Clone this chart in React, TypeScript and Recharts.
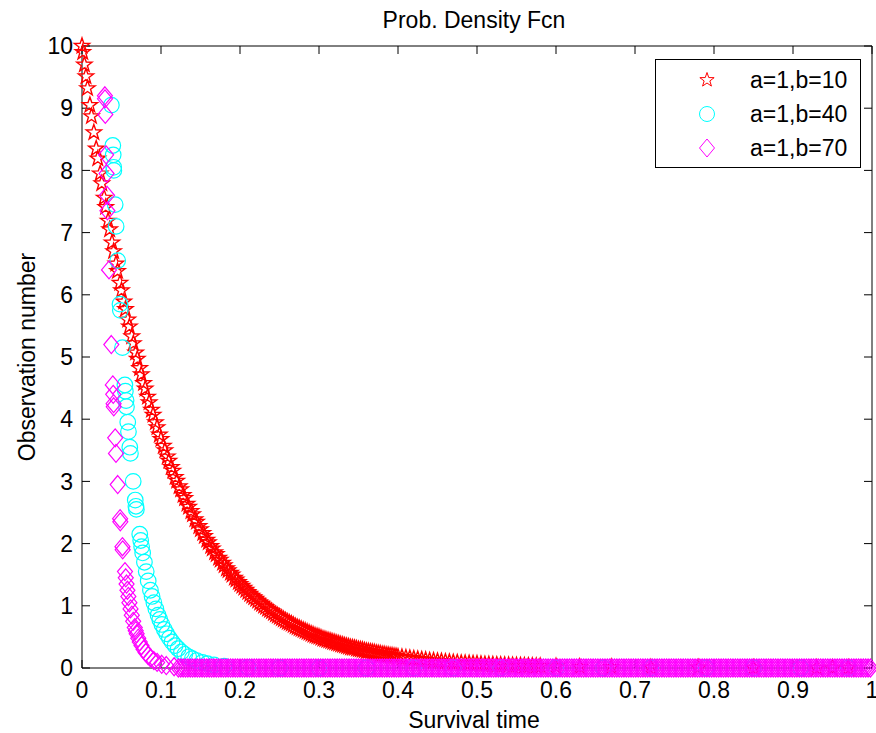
import React from 'react';
import { ScatterChart, Scatter, XAxis, YAxis, Label } from 'recharts';

const FONT = '"Liberation Sans", Arial, Helvetica, sans-serif';
const FS = 23;

const xTicks = [0, 0.1, 0.2, 0.3, 0.4, 0.5, 0.6, 0.7, 0.8, 0.9, 1];
const yTicks = [0, 1, 2, 3, 4, 5, 6, 7, 8, 9, 10];
const xTickLabels = ['0', '0.1', '0.2', '0.3', '0.4', '0.5', '0.6', '0.7', '0.8', '0.9', '1'];

const seriesNames = ['a=1,b=10', 'a=1,b=40', 'a=1,b=70'];
const seriesColors = ['#ff0000', '#00ffff', '#ff00ff'];

// a=1,b=10 (red stars)
const redX = [0, 0.001, 0.003, 0.005, 0.007, 0.01, 0.012, 0.015, 0.018, 0.02, 0.023, 0.025, 0.028, 0.03, 0.033, 0.035, 0.038, 0.04, 0.043, 0.045, 0.048, 0.05, 0.053, 0.055, 0.058, 0.06, 0.063, 0.065, 0.068, 0.07, 0.073, 0.075, 0.078, 0.08, 0.083, 0.085, 0.088, 0.09, 0.093, 0.095, 0.098, 0.1, 0.103, 0.105, 0.108, 0.11, 0.113, 0.115, 0.118, 0.12, 0.123, 0.125, 0.128, 0.13, 0.133, 0.135, 0.138, 0.14, 0.143, 0.145, 0.148, 0.15, 0.153, 0.155, 0.158, 0.16, 0.163, 0.165, 0.168, 0.17, 0.173, 0.175, 0.178, 0.18, 0.183, 0.185, 0.188, 0.19, 0.193, 0.195, 0.198, 0.2, 0.205, 0.21, 0.215, 0.22, 0.225, 0.23, 0.235, 0.24, 0.245, 0.25, 0.255, 0.26, 0.265, 0.27, 0.275, 0.28, 0.285, 0.29, 0.295, 0.3, 0.305, 0.31, 0.315, 0.32, 0.325, 0.33, 0.335, 0.34, 0.345, 0.35, 0.355, 0.36, 0.365, 0.37, 0.375, 0.38, 0.385, 0.39, 0.395, 0.4, 0.41, 0.42, 0.43, 0.44, 0.45, 0.46, 0.47, 0.48, 0.49, 0.5, 0.51, 0.52, 0.53, 0.54, 0.55, 0.56, 0.57, 0.58, 0.6, 0.63, 0.67, 0.72, 0.78, 0.85, 0.93, 0.95, 0.97];
const redY = [10, 9.9, 9.7, 9.51, 9.32, 9.05, 8.87, 8.61, 8.35, 8.19, 7.95, 7.79, 7.56, 7.41, 7.19, 7.05, 6.84, 6.7, 6.5, 6.38, 6.19, 6.07, 5.89, 5.77, 5.6, 5.49, 5.33, 5.22, 5.07, 4.97, 4.82, 4.72, 4.58, 4.49, 4.36, 4.27, 4.15, 4.07, 3.95, 3.87, 3.75, 3.68, 3.57, 3.5, 3.4, 3.33, 3.23, 3.17, 3.07, 3.01, 2.92, 2.87, 2.78, 2.73, 2.64, 2.59, 2.52, 2.47, 2.39, 2.35, 2.28, 2.23, 2.17, 2.12, 2.06, 2.02, 1.96, 1.92, 1.86, 1.83, 1.77, 1.74, 1.69, 1.65, 1.6, 1.57, 1.53, 1.5, 1.45, 1.42, 1.38, 1.35, 1.29, 1.22, 1.16, 1.11, 1.05, 1.0, 0.95, 0.91, 0.86, 0.82, 0.78, 0.74, 0.71, 0.67, 0.64, 0.61, 0.58, 0.55, 0.52, 0.5, 0.47, 0.45, 0.43, 0.41, 0.39, 0.37, 0.35, 0.33, 0.32, 0.3, 0.29, 0.27, 0.26, 0.25, 0.235, 0.22, 0.21, 0.2, 0.19, 0.18, 0.165, 0.15, 0.135, 0.12, 0.11, 0.1, 0.09, 0.08, 0.075, 0.07, 0.06, 0.055, 0.05, 0.045, 0.041, 0.037, 0.033, 0.03, 0.025, 0.018, 0.012, 0.007, 0.004, 0.002, 0.001, 0.001, 0.0];
const redX2 = [0.2025, 0.2075, 0.2125, 0.2175, 0.2225, 0.2275, 0.2325, 0.2375, 0.2425, 0.2475, 0.2525, 0.2575, 0.2625, 0.2675, 0.2725, 0.2775, 0.2825, 0.2875, 0.2925, 0.2975, 0.3025, 0.3075, 0.3125, 0.3175, 0.3225, 0.3275, 0.3325, 0.3375, 0.3425, 0.3475, 0.3525, 0.3575, 0.3625, 0.3675, 0.3725, 0.3775, 0.3825, 0.3875, 0.3925, 0.3975, 0.405, 0.415, 0.425, 0.435, 0.445, 0.455, 0.465, 0.475, 0.485, 0.495, 0.505, 0.515, 0.525, 0.535, 0.545, 0.555, 0.565, 0.575];
const redY2 = [1.32, 1.255, 1.19, 1.135, 1.08, 1.03, 0.98, 0.93, 0.885, 0.84, 0.8, 0.76, 0.725, 0.69, 0.655, 0.625, 0.595, 0.565, 0.535, 0.51, 0.485, 0.462, 0.44, 0.418, 0.398, 0.378, 0.36, 0.342, 0.326, 0.31, 0.295, 0.28, 0.267, 0.254, 0.241, 0.23, 0.218, 0.208, 0.197, 0.188, 0.174, 0.158, 0.143, 0.129, 0.117, 0.106, 0.096, 0.087, 0.078, 0.071, 0.064, 0.058, 0.052, 0.047, 0.043, 0.039, 0.035, 0.032];

// a=1,b=40 (cyan circles)
const cyanX = [0.0372, 0.039, 0.0395, 0.0401, 0.0403, 0.042, 0.0432, 0.0452, 0.0481, 0.0485, 0.0512, 0.0543, 0.0549, 0.0558, 0.0563, 0.0579, 0.0588, 0.0605, 0.0613, 0.0648, 0.0674, 0.0683, 0.0688, 0.0731, 0.0743, 0.0755, 0.0768, 0.079, 0.0813, 0.0838, 0.0866, 0.0887, 0.091, 0.0935, 0.0963, 0.0984, 0.1011, 0.1042, 0.1072, 0.1106, 0.114, 0.1178, 0.1216, 0.1259, 0.1301, 0.1351, 0.1396, 0.1452, 0.1524, 0.1587, 0.1671, 0.18, 0.21, 0.25, 0.3, 0.36, 0.42, 0.47, 0.53, 0.6, 0.66, 0.72, 0.79, 0.85, 0.91, 0.97];
const cyanY = [9.05, 8.4, 8.25, 8.05, 8.0, 7.45, 7.1, 6.55, 5.85, 5.75, 5.15, 4.55, 4.45, 4.3, 4.2, 3.95, 3.8, 3.55, 3.45, 3.0, 2.7, 2.6, 2.55, 2.15, 2.05, 1.95, 1.85, 1.7, 1.55, 1.4, 1.25, 1.15, 1.05, 0.95, 0.85, 0.78, 0.7, 0.62, 0.55, 0.48, 0.42, 0.36, 0.31, 0.26, 0.22, 0.18, 0.15, 0.12, 0.09, 0.07, 0.05, 0.03, 0.01, 0, 0, 0, 0, 0, 0, 0, 0, 0, 0, 0, 0, 0];

// a=1,b=70 (magenta diamonds)
const magentaX = [0.029, 0.0291, 0.0295, 0.0305, 0.0311, 0.0317, 0.0322, 0.0342, 0.0371, 0.039, 0.0395, 0.04, 0.0402, 0.042, 0.043, 0.0452, 0.0482, 0.0485, 0.0512, 0.0515, 0.0544, 0.0554, 0.0564, 0.0575, 0.0587, 0.06, 0.0614, 0.063, 0.0648, 0.0668, 0.068, 0.0692, 0.0712, 0.0731, 0.0753, 0.0779, 0.0805, 0.0837, 0.0869, 0.091, 0.0951, 0.1009, 0.1067, 0.1166];
const magentaY = [9.2, 9.15, 8.9, 8.25, 7.95, 7.6, 7.35, 6.4, 5.2, 4.55, 4.4, 4.25, 4.2, 3.7, 3.45, 2.95, 2.4, 2.35, 1.95, 1.9, 1.55, 1.45, 1.35, 1.25, 1.15, 1.05, 0.95, 0.85, 0.75, 0.65, 0.6, 0.55, 0.48, 0.42, 0.36, 0.3, 0.25, 0.2, 0.16, 0.12, 0.09, 0.06, 0.04, 0.02];
const magentaTailX = [0.122, 0.128, 0.134, 0.14, 0.146, 0.152, 0.158, 0.164, 0.17, 0.176, 0.182, 0.188, 0.194, 0.2, 0.206, 0.212, 0.218, 0.224, 0.23, 0.236, 0.242, 0.248, 0.254, 0.26, 0.266, 0.272, 0.278, 0.284, 0.29, 0.296, 0.302, 0.308, 0.314, 0.32, 0.326, 0.332, 0.338, 0.344, 0.35, 0.356, 0.362, 0.368, 0.374, 0.38, 0.386, 0.392, 0.398, 0.404, 0.41, 0.416, 0.422, 0.428, 0.434, 0.44, 0.446, 0.452, 0.458, 0.464, 0.47, 0.476, 0.482, 0.488, 0.494, 0.5, 0.506, 0.512, 0.518, 0.524, 0.53, 0.536, 0.542, 0.548, 0.554, 0.56, 0.566, 0.572, 0.578, 0.584, 0.59, 0.596, 0.602, 0.608, 0.614, 0.62, 0.626, 0.632, 0.638, 0.644, 0.65, 0.656, 0.662, 0.668, 0.674, 0.68, 0.686, 0.692, 0.698, 0.704, 0.71, 0.716, 0.722, 0.728, 0.734, 0.74, 0.746, 0.752, 0.758, 0.764, 0.77, 0.776, 0.782, 0.788, 0.794, 0.8, 0.806, 0.812, 0.818, 0.824, 0.83, 0.836, 0.842, 0.848, 0.854, 0.86, 0.866, 0.872, 0.878, 0.884, 0.89, 0.896, 0.902, 0.908, 0.914, 0.92, 0.926, 0.932, 0.938, 0.944, 0.95, 0.956, 0.962, 0.968, 0.974, 0.98, 0.986, 0.992, 0.998];
const magentaTailX2 = [0.125, 0.131, 0.137, 0.143, 0.149, 0.155, 0.161, 0.167, 0.173, 0.179, 0.185, 0.191, 0.197, 0.203, 0.209, 0.215, 0.221, 0.227, 0.233, 0.239, 0.245, 0.251, 0.257, 0.263, 0.269, 0.275, 0.281, 0.287, 0.293, 0.299, 0.305, 0.311, 0.317, 0.323, 0.329, 0.335, 0.341, 0.347, 0.353, 0.359, 0.365, 0.371, 0.377, 0.383, 0.389, 0.395, 0.401, 0.407, 0.413, 0.419, 0.425, 0.431, 0.437, 0.443, 0.449, 0.455, 0.461, 0.467, 0.473, 0.479, 0.485, 0.491, 0.497, 0.503, 0.509, 0.515, 0.521, 0.527, 0.533, 0.539, 0.545, 0.551, 0.557, 0.563, 0.569, 0.575, 0.581, 0.587, 0.593, 0.599, 0.605, 0.611, 0.617, 0.623, 0.629, 0.635, 0.641, 0.647, 0.653, 0.659, 0.665, 0.671, 0.677, 0.683, 0.689, 0.695, 0.701, 0.707, 0.713, 0.719, 0.725, 0.731, 0.737, 0.743, 0.749, 0.755, 0.761, 0.767, 0.773, 0.779, 0.785, 0.791, 0.797, 0.803, 0.809, 0.815, 0.821, 0.827, 0.833, 0.839, 0.845, 0.851, 0.857, 0.863, 0.869, 0.875, 0.881, 0.887, 0.893, 0.899, 0.905, 0.911, 0.917, 0.923, 0.929, 0.935, 0.941, 0.947, 0.953, 0.959, 0.965, 0.971, 0.977, 0.983, 0.989, 0.995];

const redData = [
  ...redX.map((x, i) => ({ x, y: redY[i] })),
  ...redX2.map((x, i) => ({ x, y: redY2[i] })),
];
const cyanData = cyanX.map((x, i) => ({ x, y: cyanY[i] }));
const magentaData = [
  ...magentaX.map((x, i) => ({ x, y: magentaY[i] })),
  ...magentaTailX.map((x) => ({ x, y: 0 })),
  ...magentaTailX2.map((x) => ({ x, y: 0 })),
];
// anchors for the mirrored (box) axes; drawn invisibly
const boxAnchor = [{ x: 0, y: 0 }, { x: 1, y: 10 }];

const starPath = (cx: number, cy: number, R: number, r: number) => {
  let d = '';
  for (let k = 0; k < 10; k++) {
    const rad = k % 2 === 0 ? R : r;
    const a = -Math.PI / 2 + (k * Math.PI) / 5;
    d += (k === 0 ? 'M' : 'L') + (cx + rad * Math.cos(a)).toFixed(2) + ',' + (cy + rad * Math.sin(a)).toFixed(2);
  }
  return d + 'Z';
};

const StarShape = (p: any) => {
  if (p.cx == null || p.cy == null) return <g />;
  return <path d={starPath(p.cx, p.cy, 8, 3.2)} fill="none" stroke={seriesColors[0]} strokeWidth={1.4} />;
};
const CircleShape = (p: any) => {
  if (p.cx == null || p.cy == null) return <g />;
  return <circle cx={p.cx} cy={p.cy} r={7.8} fill="none" stroke={seriesColors[1]} strokeWidth={1.2} />;
};
const DiamondShape = (p: any) => {
  if (p.cx == null || p.cy == null) return <g />;
  const { cx, cy } = p;
  return (
    <path
      d={`M${cx},${cy - 9}L${cx + 7.5},${cy}L${cx},${cy + 9}L${cx - 7.5},${cy}Z`}
      fill="none"
      stroke={seriesColors[2]}
      strokeWidth={1.2}
    />
  );
};
const NoShape = () => <g />;

const LegendBox = () => (
  <div
    style={{
      position: 'absolute',
      left: 655,
      top: 59,
      width: 204,
      height: 107,
      border: '1px solid #000',
      background: '#fff',
      fontFamily: FONT,
      fontSize: FS,
      color: '#000',
    }}
  >
    {seriesNames.map((name, i) => (
      <div key={name} style={{ position: 'absolute', left: 0, top: 3 + i * 34, height: 34, width: 204 }}>
        <svg width={30} height={30} style={{ position: 'absolute', left: 36, top: 2 }}>
          {i === 0 && <path d={starPath(15, 15, 7.5, 3)} fill="none" stroke={seriesColors[0]} />}
          {i === 1 && <circle cx={15} cy={15} r={7.5} fill="none" stroke={seriesColors[1]} />}
          {i === 2 && <path d="M15,6L22.5,15L15,24L7.5,15Z" fill="none" stroke={seriesColors[2]} />}
        </svg>
        <span style={{ position: 'absolute', left: 94, top: 4, lineHeight: '26px', whiteSpace: 'nowrap' }}>{name}</span>
      </div>
    ))}
  </div>
);

const tickStyle = { fill: '#000', fontSize: FS, fontFamily: FONT };

export default function App() {
  return (
    <div style={{ position: 'absolute', left: 0, top: 0, width: 876, height: 733, background: '#fff' }}>
      <ScatterChart width={876} height={733} margin={{ top: 45, right: 3, bottom: 0, left: 0 }}>
        <XAxis
          xAxisId="bottom"
          type="number"
          dataKey="x"
          domain={[0, 1]}
          ticks={xTicks}
          tickFormatter={(v: number) => xTickLabels[xTicks.indexOf(v)] ?? String(v)}
          height={65}
          tickSize={-8}
          tickMargin={22}
          tick={tickStyle}
          axisLine={{ stroke: '#000', strokeWidth: 1 }}
          tickLine={{ stroke: '#000' }}
          interval={0}
        >
          <Label
            content={() => (
              <text x={474} y={720} textAnchor="middle" dominantBaseline="central" fontSize={FS} fontFamily={FONT} fill="#000">
                Survival time
              </text>
            )}
          />
        </XAxis>
        <XAxis
          xAxisId="top"
          orientation="top"
          type="number"
          dataKey="x"
          domain={[0, 1]}
          ticks={xTicks}
          tickFormatter={() => ''}
          height={1}
          tickSize={-8}
          tickMargin={0}
          axisLine={{ stroke: '#000', strokeWidth: 1 }}
          tickLine={{ stroke: '#000' }}
          interval={0}
        >
          <Label
            content={() => (
              <text x={474} y={20} textAnchor="middle" dominantBaseline="central" fontSize={FS} fontFamily={FONT} fill="#000">
                Prob. Density Fcn
              </text>
            )}
          />
        </XAxis>
        <YAxis
          yAxisId="left"
          type="number"
          dataKey="y"
          domain={[0, 10]}
          ticks={yTicks}
          width={82}
          tickSize={-8}
          tickMargin={17}
          tick={tickStyle}
          axisLine={{ stroke: '#000', strokeWidth: 1 }}
          tickLine={{ stroke: '#000' }}
          interval={0}
        >
          <Label
            content={() => (
              <text
                x={27}
                y={357}
                textAnchor="middle"
                dominantBaseline="central"
                fontSize={FS}
                fontFamily={FONT}
                fill="#000"
                transform="rotate(-90 27 357)"
              >
                Observation number
              </text>
            )}
          />
        </YAxis>
        <YAxis
          yAxisId="right"
          orientation="right"
          type="number"
          dataKey="y"
          domain={[0, 10]}
          ticks={yTicks}
          width={1}
          tickSize={-8}
          tickMargin={0}
          tickFormatter={() => ''}
          axisLine={{ stroke: '#000', strokeWidth: 1 }}
          tickLine={{ stroke: '#000' }}
          interval={0}
        />
        <Scatter data={boxAnchor} xAxisId="top" yAxisId="right" shape={NoShape} isAnimationActive={false} />
        <Scatter name={seriesNames[0]} data={redData} xAxisId="bottom" yAxisId="left" shape={StarShape} isAnimationActive={false} />
        <Scatter name={seriesNames[1]} data={cyanData} xAxisId="bottom" yAxisId="left" shape={CircleShape} isAnimationActive={false} />
        <Scatter name={seriesNames[2]} data={magentaData} xAxisId="bottom" yAxisId="left" shape={DiamondShape} isAnimationActive={false} />
      </ScatterChart>
      <LegendBox />
    </div>
  );
}
